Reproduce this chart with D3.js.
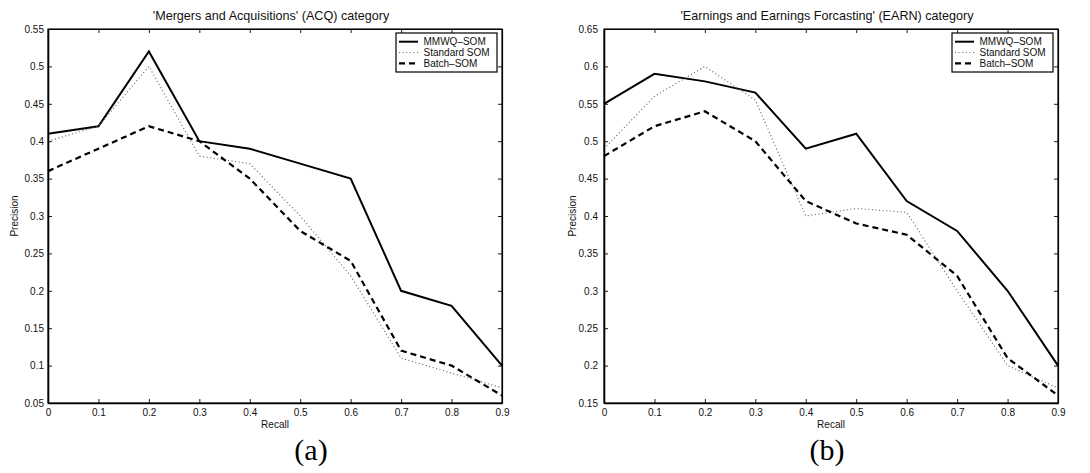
<!DOCTYPE html>
<html>
<head>
<meta charset="utf-8">
<script src="https://cdn.jsdelivr.net/npm/d3@7"></script>
<style>
  html, body { margin: 0; padding: 0; background: #fff; }
  svg { display: block; }
  .tick text { font-family: "Liberation Sans", Arial, sans-serif; font-size: 10px; fill: #111; }
</style>
</head>
<body>
<svg id="fig" width="1090" height="473"></svg>
<script>
// Recall levels shared by both panels
const recall = [0, 0.1, 0.2, 0.3, 0.4, 0.5, 0.6, 0.7, 0.8, 0.9];
const xTicks = [0, 0.1, 0.2, 0.3, 0.4, 0.5, 0.6, 0.7, 0.8, 0.9];

// Precision per recall level, 'Mergers and Acquisitions' (ACQ)
const acqMMWQ     = [0.41, 0.42, 0.52, 0.40, 0.39, 0.37, 0.35, 0.20, 0.18, 0.10];
const acqStandard = [0.40, 0.42, 0.50, 0.38, 0.37, 0.30, 0.22, 0.11, 0.09, 0.07];
const acqBatch    = [0.36, 0.39, 0.42, 0.40, 0.35, 0.28, 0.24, 0.12, 0.10, 0.06];
const acqYTicks   = [0.05, 0.1, 0.15, 0.2, 0.25, 0.3, 0.35, 0.4, 0.45, 0.5, 0.55];

// Precision per recall level, 'Earnings and Earnings Forcasting' (EARN)
const earnMMWQ     = [0.55, 0.59, 0.58, 0.565, 0.49, 0.51, 0.42, 0.38, 0.30, 0.20];
const earnStandard = [0.49, 0.56, 0.60, 0.555, 0.40, 0.41, 0.405, 0.30, 0.20, 0.17];
const earnBatch    = [0.48, 0.52, 0.54, 0.50, 0.42, 0.39, 0.375, 0.32, 0.21, 0.16];
const earnYTicks   = [0.15, 0.2, 0.25, 0.3, 0.35, 0.4, 0.45, 0.5, 0.55, 0.6, 0.65];

const seriesNames = ["MMWQ\u2013SOM", "Standard SOM", "Batch\u2013SOM"];

const seriesStyle = [
  { stroke: "#000", width: 2.0, dash: null },
  { stroke: "#666", width: 1.2, dash: "1,2.6" },
  { stroke: "#000", width: 2.2, dash: "6,4" }
];

const svg = d3.select("#fig");
const sans = '"Liberation Sans", Arial, sans-serif';

function fmt(v) { return d3.format("")(+v.toFixed(2)); }

function drawPanel(cfg) {
  const x = d3.scaleLinear().domain([0, 0.9]).range([cfg.left, cfg.right]);
  const y = d3.scaleLinear().domain(cfg.yDomain).range([cfg.bottom, cfg.top]);
  const g = svg.append("g");

  // series lines
  const line = d3.line().x((d, i) => x(recall[i])).y(d => y(d));
  cfg.series.forEach((vals, k) => {
    const st = seriesStyle[k];
    g.append("path")
      .datum(vals)
      .attr("d", line)
      .attr("fill", "none")
      .attr("stroke", st.stroke)
      .attr("stroke-width", st.width)
      .attr("stroke-dasharray", st.dash)
      .attr("stroke-linejoin", "miter");
  });

  // axes with inward ticks on all four sides
  const bottom = g.append("g").attr("transform", `translate(0,${cfg.bottom})`)
    .call(d3.axisBottom(x).tickValues(xTicks).tickFormat(fmt)
      .tickSizeInner(-4).tickSizeOuter(0).tickPadding(6));
  const top = g.append("g").attr("transform", `translate(0,${cfg.top})`)
    .call(d3.axisTop(x).tickValues(xTicks).tickFormat("")
      .tickSizeInner(-4).tickSizeOuter(0));
  const left = g.append("g").attr("transform", `translate(${cfg.left},0)`)
    .call(d3.axisLeft(y).tickValues(cfg.yTicks).tickFormat(fmt)
      .tickSizeInner(-4).tickSizeOuter(0).tickPadding(cfg.yPad));
  const right = g.append("g").attr("transform", `translate(${cfg.right},0)`)
    .call(d3.axisRight(y).tickValues(cfg.yTicks).tickFormat("")
      .tickSizeInner(-4).tickSizeOuter(0));

  [bottom, left].forEach(a => {
    a.select(".domain").attr("stroke", "#000").attr("stroke-width", 1.6);
    a.selectAll(".tick line").attr("stroke", "#000").attr("stroke-width", 0.9);
  });
  [top, right].forEach(a => {
    a.select(".domain").attr("stroke", "#000").attr("stroke-width", 1.2);
    a.selectAll(".tick line").attr("stroke", "#000").attr("stroke-width", 0.9);
  });
  // frame around the plot area
  g.append("rect")
    .attr("x", cfg.left).attr("y", cfg.top)
    .attr("width", cfg.right - cfg.left).attr("height", cfg.bottom - cfg.top)
    .attr("fill", "none").attr("stroke", "#000").attr("stroke-width", 1.1);

  // title and axis labels
  g.append("text")
    .attr("x", (cfg.left + cfg.right) / 2 - 4).attr("y", cfg.top - 9)
    .attr("text-anchor", "middle")
    .attr("font-family", sans).attr("font-size", 12.6).attr("fill", "#111")
    .text(cfg.title);
  g.append("text")
    .attr("x", (cfg.left + cfg.right) / 2).attr("y", cfg.bottom + 25)
    .attr("text-anchor", "middle")
    .attr("font-family", sans).attr("font-size", 10).attr("fill", "#111")
    .text("Recall");
  g.append("text")
    .attr("transform", `translate(${cfg.left - cfg.labelOff},${(cfg.top + cfg.bottom) / 2}) rotate(-90)`)
    .attr("text-anchor", "middle")
    .attr("font-family", sans).attr("font-size", 10).attr("fill", "#111")
    .text("Precision");

  // legend
  const lw = 101, lh = 39;
  const lx = cfg.right - 5 - lw, ly = cfg.top + 4;
  const lg = g.append("g").attr("transform", `translate(${lx},${ly})`);
  lg.append("rect").attr("width", lw).attr("height", lh)
    .attr("fill", "#fff").attr("stroke", "#000").attr("stroke-width", 1.2);
  seriesNames.forEach((name, k) => {
    const st = seriesStyle[k];
    const yy = 8.7 + k * 10.8;
    lg.append("line")
      .attr("x1", 3).attr("x2", 22).attr("y1", yy).attr("y2", yy)
      .attr("stroke", st.stroke).attr("stroke-width", st.width)
      .attr("stroke-dasharray", st.dash);
    lg.append("text")
      .attr("x", 27.5).attr("y", yy + 3.5)
      .attr("font-family", sans).attr("font-size", 10).attr("fill", "#111")
      .text(name);
  });

  // panel caption
  svg.append("text")
    .attr("x", cfg.captionX).attr("y", 460)
    .attr("text-anchor", "middle")
    .attr("font-family", '"Liberation Serif", "DejaVu Serif", serif')
    .attr("font-size", 30).attr("fill", "#000")
    .text(cfg.caption);
}

drawPanel({
  left: 48, right: 502, top: 29, bottom: 403,
  yDomain: [0.05, 0.55], yTicks: acqYTicks, yPad: 4, labelOff: 30,
  series: [acqMMWQ, acqStandard, acqBatch],
  title: "'Mergers and Acquisitions' (ACQ) category",
  caption: "(a)", captionX: 311
});

drawPanel({
  left: 604, right: 1058, top: 29, bottom: 403,
  yDomain: [0.15, 0.65], yTicks: earnYTicks, yPad: 6, labelOff: 28,
  series: [earnMMWQ, earnStandard, earnBatch],
  title: "'Earnings and Earnings Forcasting' (EARN) category",
  caption: "(b)", captionX: 827
});
</script>
</body>
</html>
